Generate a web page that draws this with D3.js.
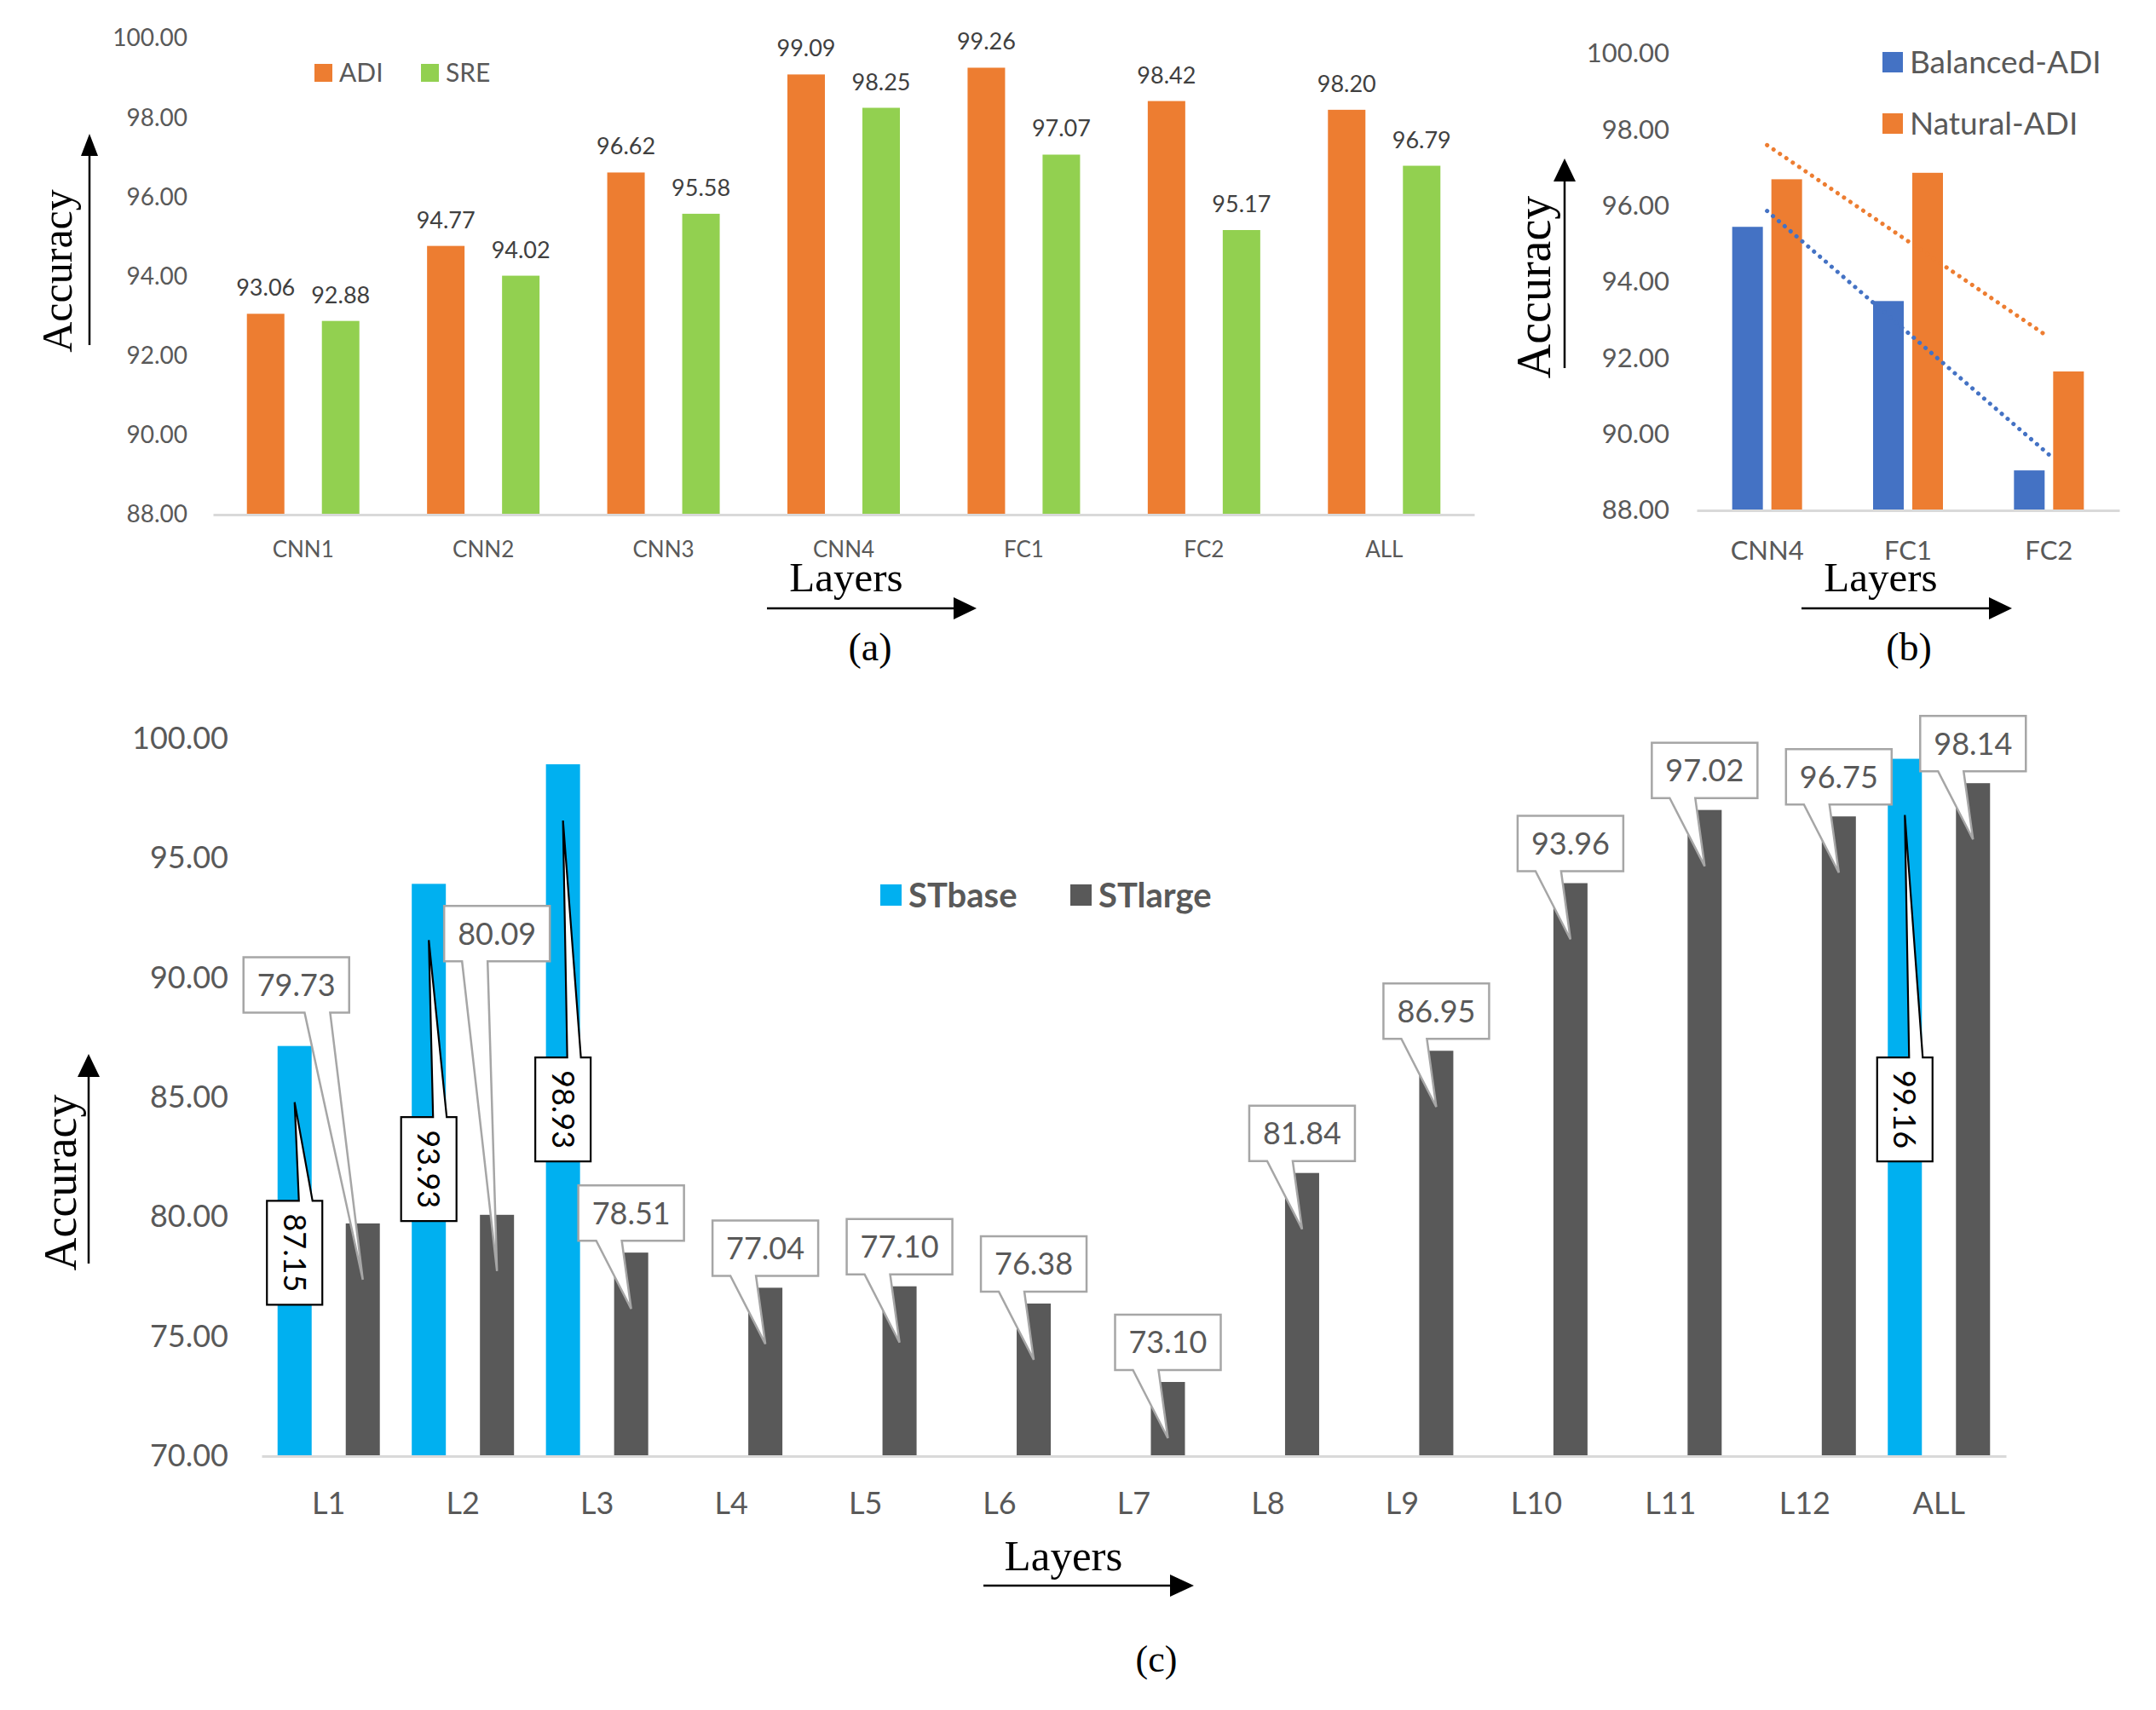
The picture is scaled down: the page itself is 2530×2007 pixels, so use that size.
<!DOCTYPE html>
<html>
<head>
<meta charset="utf-8">
<script src="https://cdn.jsdelivr.net/npm/d3@7/dist/d3.min.js"></script>
<style>
  body { margin: 0; background: #fff; }
  svg { display: block; }
</style>
</head>
<body>
<svg id="chart" width="2530" height="2007"></svg>
<script>
// ---- data: panel (a)
var layersA = ['CNN1', 'CNN2', 'CNN3', 'CNN4', 'FC1', 'FC2', 'ALL'];
var adi = [93.06, 94.77, 96.62, 99.09, 99.26, 98.42, 98.20];
var sre = [92.88, 94.02, 95.58, 98.25, 97.07, 95.17, 96.79];
var ticksA = [88, 90, 92, 94, 96, 98, 100];

// ---- data: panel (b)
var layersB = ['CNN4', 'FC1', 'FC2'];
var balancedAdi = [95.45, 93.50, 89.05];
var naturalAdi = [96.70, 96.87, 91.65];
var ticksB = [88, 90, 92, 94, 96, 98, 100];

// ---- data: panel (c)
var layersC = ['L1', 'L2', 'L3', 'L4', 'L5', 'L6', 'L7', 'L8', 'L9', 'L10', 'L11', 'L12', 'ALL'];
var stBase = [87.15, 93.93, 98.93, null, null, null, null, null, null, null, null, null, 99.16];
var stLarge = [79.73, 80.09, 78.51, 77.04, 77.10, 76.38, 73.10, 81.84, 86.95, 93.96, 97.02, 96.75, 98.14];
var ticksC = [70, 75, 80, 85, 90, 95, 100];

// label placement in panel (c) (moved by hand in the original)
var baseLabelAt = { L1: 78.5, L2: 82.0, L3: 84.5, ALL: 84.5 };   // box centre, in accuracy units
var largeLabelAt = { L1: [-78, 89.7], L2: [0, 91.85] };           // [dx px, box centre in accuracy units]

var svg = d3.select('#chart');
var fmt = d3.format('.2f');
var SANS = 'Lato, "Open Sans", sans-serif';
var SERIF = '"Liberation Serif", "DejaVu Serif", serif';
var GREY = '#595959';

function arrow(x1, y1, x2, y2, head, half) {
  var a = Math.atan2(y2 - y1, x2 - x1);
  var bx = x2 - head * Math.cos(a), by = y2 - head * Math.sin(a);
  svg.append('line')
    .attr('x1', x1).attr('y1', y1).attr('x2', bx).attr('y2', by)
    .attr('stroke', '#000').attr('stroke-width', 2.5);
  var px = -Math.sin(a) * half, py = Math.cos(a) * half;
  svg.append('path')
    .attr('d', 'M' + x2 + ',' + y2 + 'L' + (bx + px) + ',' + (by + py) + 'L' + (bx - px) + ',' + (by - py) + 'Z')
    .attr('fill', '#000');
}

function yTitle(x, y, size) {
  svg.append('text')
    .attr('transform', 'translate(' + x + ',' + y + ') rotate(-90)')
    .attr('text-anchor', 'middle')
    .style('font-family', SERIF).style('font-size', size + 'px')
    .text('Accuracy');
}

function serifText(x, y, size, txt) {
  svg.append('text')
    .attr('x', x).attr('y', y)
    .attr('text-anchor', 'middle')
    .style('font-family', SERIF).style('font-size', size + 'px')
    .text(txt);
}

function axes(x, y, ticks, yPad, xLabelY, tickFont, catFont) {
  var left = x.range()[0];
  var base = y.range()[0];
  var gy = svg.append('g')
    .attr('transform', 'translate(' + left + ',0)')
    .call(d3.axisLeft(y).tickValues(ticks).tickFormat(fmt).tickSize(0).tickPadding(yPad));
  gy.select('.domain').remove();
  gy.selectAll('text')
    .attr('fill', GREY)
    .style('font-family', SANS).style('font-size', tickFont + 'px');

  var gx = svg.append('g')
    .attr('transform', 'translate(0,' + base + ')')
    .call(d3.axisBottom(x).tickSize(0).tickSizeOuter(0));
  gx.select('.domain').attr('stroke', '#D9D9D9').attr('stroke-width', 3);
  gx.selectAll('text')
    .attr('y', xLabelY).attr('dy', '0.36em')
    .attr('fill', GREY)
    .style('font-family', SANS).style('font-size', catFont + 'px');
}

function legendItem(x, y, size, color, label, fontSize, bold) {
  svg.append('rect')
    .attr('x', x).attr('y', y).attr('width', size).attr('height', size)
    .attr('fill', color);
  svg.append('text')
    .attr('x', x + size + 8).attr('y', y + size / 2).attr('dy', '0.36em')
    .attr('fill', GREY)
    .style('font-family', SANS).style('font-size', fontSize + 'px')
    .style('font-weight', bold ? 'bold' : 'normal')
    .text(label);
}

// ================= panel (a)
(function () {
  var x = d3.scaleBand().domain(layersA).range([250, 1730]);
  var y = d3.scaleLinear().domain([88, 100]).range([604, 45]);
  var inner = d3.scaleBand().domain(['ADI', 'SRE']).range([-66, 66]).paddingInner(0.5);
  var series = [
    { key: 'ADI', values: adi, color: '#ED7D31' },
    { key: 'SRE', values: sre, color: '#92D050' }
  ];

  series.forEach(function (s) {
    var g = svg.append('g');
    g.selectAll('rect').data(s.values).enter().append('rect')
      .attr('x', function (d, i) { return x(layersA[i]) + x.bandwidth() / 2 + inner(s.key); })
      .attr('y', function (d) { return y(d); })
      .attr('width', inner.bandwidth())
      .attr('height', function (d) { return y(88) - y(d); })
      .attr('fill', s.color);
    g.selectAll('text').data(s.values).enter().append('text')
      .attr('x', function (d, i) { return x(layersA[i]) + x.bandwidth() / 2 + inner(s.key) + inner.bandwidth() / 2; })
      .attr('y', function (d) { return y(d) - 21; })
      .attr('text-anchor', 'middle')
      .attr('fill', '#404040')
      .style('font-family', SANS).style('font-size', '27px')
      .text(fmt);
  });

  axes(x, y, ticksA, 30, 41, 28, 26);

  legendItem(369, 75, 21, '#ED7D31', 'ADI', 30);
  legendItem(494, 75, 21, '#92D050', 'SRE', 30);

  yTitle(84, 318, 50);
  arrow(105, 405, 105, 157, 26, 10);
  serifText(993, 694, 49, 'Layers');
  arrow(900, 714, 1146, 714, 27, 13);
  serifText(1021, 775, 46, '(a)');
})();

// ================= panel (b)
(function () {
  var x = d3.scaleBand().domain(layersB).range([1991, 2487]);
  var y = d3.scaleLinear().domain([88, 100]).range([599, 63]);
  var inner = d3.scaleBand().domain(['Balanced', 'Natural']).range([-41, 41]).paddingInner(10 / 46);
  var series = [
    { key: 'Balanced', label: 'Balanced-ADI', values: balancedAdi, color: '#4472C4' },
    { key: 'Natural', label: 'Natural-ADI', values: naturalAdi, color: '#ED7D31' }
  ];

  series.forEach(function (s) {
    svg.append('g').selectAll('rect').data(s.values).enter().append('rect')
      .attr('x', function (d, i) { return x(layersB[i]) + x.bandwidth() / 2 + inner(s.key); })
      .attr('y', function (d) { return y(d); })
      .attr('width', inner.bandwidth())
      .attr('height', function (d) { return y(88) - y(d); })
      .attr('fill', s.color);
  });

  // linear trendlines (least squares over category index)
  series.forEach(function (s) {
    var n = s.values.length;
    var mx = (n - 1) / 2, my = d3.mean(s.values);
    var sxy = 0, sxx = 0;
    s.values.forEach(function (v, i) { sxy += (i - mx) * (v - my); sxx += (i - mx) * (i - mx); });
    var slope = sxy / sxx;
    var fit = function (i) { return my + slope * (i - mx); };
    svg.append('line')
      .attr('x1', x(layersB[0]) + x.bandwidth() / 2).attr('y1', y(fit(0)))
      .attr('x2', x(layersB[n - 1]) + x.bandwidth() / 2).attr('y2', y(fit(n - 1)))
      .attr('stroke', s.color).attr('stroke-width', 5)
      .attr('stroke-linecap', 'round').attr('stroke-dasharray', '0.1 9');
  });

  axes(x, y, ticksB, 32, 47, 31, 31);

  legendItem(2209, 61, 24, '#4472C4', 'Balanced-ADI', 37);
  legendItem(2209, 133, 24, '#ED7D31', 'Natural-ADI', 37);

  yTitle(1819, 337, 56);
  arrow(1836, 432, 1836, 186, 27, 13);
  serifText(2207, 694, 49, 'Layers');
  arrow(2114, 714, 2361, 714, 27, 13);
  serifText(2240, 775, 46, '(b)');
})();

// ================= panel (c)
(function () {
  var x = d3.scaleBand().domain(layersC).range([307, 2354]);
  var y = d3.scaleLinear().domain([70, 100]).range([1709, 867]);
  var inner = d3.scaleBand().domain(['STbase', 'STlarge']).range([-60, 60]).paddingInner(0.5);
  var series = [
    { key: 'STbase', values: stBase, color: '#00B0F0' },
    { key: 'STlarge', values: stLarge, color: '#595959' }
  ];
  var cx = function (key, i) { return x(layersC[i]) + x.bandwidth() / 2 + inner(key) + inner.bandwidth() / 2; };

  series.forEach(function (s) {
    svg.append('g').selectAll('rect')
      .data(s.values.map(function (v, i) { return { v: v, i: i }; }).filter(function (d) { return d.v != null; }))
      .enter().append('rect')
      .attr('x', function (d) { return cx(s.key, d.i) - inner.bandwidth() / 2; })
      .attr('y', function (d) { return y(d.v); })
      .attr('width', inner.bandwidth())
      .attr('height', function (d) { return y(70) - y(d.v); })
      .attr('fill', s.color);
  });

  axes(x, y, ticksC, 39, 55, 36, 36);

  // STbase callouts: rotated text, black box, pointer from the top edge
  var bw = 65, bh = 122;
  stBase.forEach(function (v, i) {
    if (v == null) return;
    var c = cx('STbase', i);
    var cy = y(baseLabelAt[layersC[i]]);
    var bx = c - bw / 2, by = cy - bh / 2;
    var tipY = y(v) + 66;
    svg.append('path')
      .attr('d', 'M' + bx + ',' + by + 'H' + (c + 5) + 'L' + c + ',' + tipY + 'L' + (c + 21) + ',' + by +
        'H' + (bx + bw) + 'V' + (by + bh) + 'H' + bx + 'Z')
      .attr('fill', '#fff').attr('stroke', '#000').attr('stroke-width', 2.2)
      .attr('stroke-linejoin', 'miter');
    svg.append('text')
      .attr('transform', 'translate(' + c + ',' + cy + ') rotate(90)')
      .attr('text-anchor', 'middle').attr('dy', '0.36em')
      .attr('fill', '#000')
      .style('font-family', SANS).style('font-size', '36px')
      .text(fmt(v));
  });

  // STlarge callouts: grey box above the bar, pointer down into the bar
  var lw = 124, lh = 65;
  stLarge.forEach(function (v, i) {
    var c = cx('STlarge', i);
    var top = y(v);
    var tipX = c, tipY = top + 66;
    var boxCx = c, boxCy = top - 14 - lh / 2;
    var moved = largeLabelAt[layersC[i]];
    if (moved) { boxCx = c + moved[0]; boxCy = y(moved[1]); }
    var bx = boxCx - lw / 2, by = boxCy - lh / 2;
    var mid = boxCx - 26 + (tipX - boxCx) * 0.65;
    svg.append('path')
      .attr('d', 'M' + bx + ',' + by + 'H' + (bx + lw) + 'V' + (by + lh) + 'H' + (mid + 15) +
        'L' + tipX + ',' + tipY + 'L' + (mid - 15) + ',' + (by + lh) + 'H' + bx + 'Z')
      .attr('fill', '#fff').attr('stroke', '#A6A6A6').attr('stroke-width', 2.5);
    svg.append('text')
      .attr('x', boxCx).attr('y', boxCy).attr('dy', '0.36em')
      .attr('text-anchor', 'middle')
      .attr('fill', GREY)
      .style('font-family', SANS).style('font-size', '36px')
      .text(fmt(v));
  });

  legendItem(1033, 1038, 25, '#00B0F0', 'STbase', 40, true);
  legendItem(1256, 1038, 25, '#595959', 'STlarge', 40, true);

  yTitle(89, 1388, 54);
  arrow(104, 1483, 104, 1237, 27, 13);
  serifText(1248, 1843, 51, 'Layers');
  arrow(1154, 1861, 1401, 1861, 28, 13);
  serifText(1357, 1962, 44, '(c)');
})();
</script>
</body>
</html>
